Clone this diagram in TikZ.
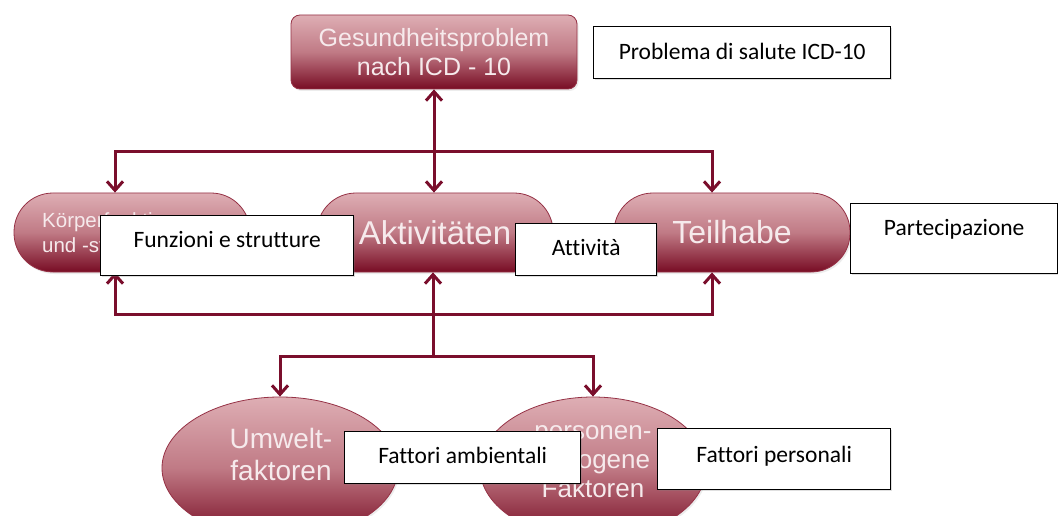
\documentclass[tikz,border=0pt]{standalone}
\usepackage{fontspec}
\newfontfamily\gfont{Liberation Sans}
\newfontfamily\ifont[Ligatures=NoCommon]{Carlito}
\usetikzlibrary{arrows.meta,shapes.geometric,shadows,calc}
\definecolor{conncol}{RGB}{122,14,44}
\definecolor{shtop}{RGB}{222,174,180}
\definecolor{shmid}{RGB}{192,122,133}
\definecolor{shbot}{RGB}{120,12,36}
\definecolor{shedge}{RGB}{150,50,70}
\definecolor{gtxt}{RGB}{246,234,236}
\begin{document}
\begin{tikzpicture}[x=1pt,y=-1pt,
  redshape/.style={draw=shedge, line width=0.8pt, top color=shtop, bottom color=shbot, middle color=shmid,
     drop shadow={opacity=0.15,shadow xshift=1.5pt,shadow yshift=-2pt}, inner sep=0pt},
  pill/.style={redshape, rectangle, rounded corners=39pt, minimum width=236pt, minimum height=79pt},
  gtext/.style={text=gtxt, inner sep=0pt},
  gbig/.style={gtext, font=\gfont\fontsize{33}{38}\selectfont},
  gmid/.style={gtext, font=\gfont\fontsize{25}{28.5}\selectfont, align=center},
  itbox/.style={draw=black, line width=1.4pt, fill=white, inner sep=0pt, anchor=north west,
     drop shadow={opacity=0.25,shadow xshift=1.2pt,shadow yshift=-1.2pt}},
  ittext/.style={font=\ifont\fontsize{23.5}{28}\selectfont, text=black, inner sep=0pt, anchor=base},
  conn/.style={draw=conncol, line width=3pt, >={Straight Barb[length=9pt,width=16pt]}}
]
\clip (0,0) rectangle (1058,516);
\fill[white] (0,0) rectangle (1058,516);

% maroon shapes
\node[redshape, rectangle, rounded corners=9pt, minimum width=286pt, minimum height=74pt,
      gmid] (gp) at (434,52) {Gesundheitsproblem\\nach ICD - 10};
\node[pill] (koerper) at (132,232.5) {};
\node[pill, gbig] (akt) at (435,232.5) {Aktivitäten};
\node[pill, gtext, font=\gfont\fontsize{32}{36}\selectfont] (teil) at (732,232.5) {Teilhabe};
\node[gtext, font=\gfont\fontsize{20.5}{25}\selectfont, align=left, anchor=base west] (kt) at (42,252) {Körperfunktionen\\und -strukturen};

\node[redshape, ellipse, minimum width=236pt, minimum height=142pt] (umw) at (280,468) {};
\node[gtext, font=\gfont\fontsize{28}{32}\selectfont, align=center, anchor=base] (umwt) at (281,480) {Umwelt-\\faktoren};
\node[redshape, ellipse, minimum width=226pt, minimum height=142pt] (pers) at (593,468) {};
\node[gtext, font=\gfont\fontsize{26}{29}\selectfont, align=center, anchor=base] (perst) at (593,497) {personen-\\bezogene\\Faktoren};

% connectors
\coordinate (tl) at (115,152);
\coordinate (tr) at (712,152);
\coordinate (bl) at (115,314);
\coordinate (br) at (712,314);
\coordinate (bm) at (433,356);
\draw[conn,<->] (gp.south) -- (gp.south |- akt.north);
\draw[conn,<->] (koerper.north -| tl) -- (tl) -- (tr) -- (teil.north -| tr);
\draw[conn,<->] (koerper.south -| bl) -- (bl) -- (br) -- (teil.south -| br);
\draw[conn,->] (bm) -- (bm |- akt.south);
\draw[conn,<->] (umw.north) -- (umw.north |- bm) -- (pers.north |- bm) -- (pers.north);

% italian boxes
\node[itbox, minimum width=297pt, minimum height=52pt] (p1) at (593,26) {};
\node[ittext] (p1t) at ($(p1.north)+(0,34)$) {Problema di salute ICD-10};
\node[itbox, minimum width=253pt, minimum height=60pt] (p2) at (100,215) {};
\node[ittext] (p2t) at ($(p2.north)+(0,32)$) {Funzioni e strutture};
\node[itbox, minimum width=141pt, minimum height=52pt] (p3) at (515,223) {};
\node[ittext] (p3t) at ($(p3.north)+(0,32)$) {Attività};
\node[itbox, minimum width=207pt, minimum height=70pt] (p4) at (850,203) {};
\node[ittext] (p4t) at ($(p4.north)+(0,32)$) {Partecipazione};
\node[itbox, minimum width=236pt, minimum height=52pt] (p5) at (344,431) {};
\node[ittext] (p5t) at ($(p5.north)+(0,32)$) {Fattori ambientali};
\node[itbox, minimum width=233pt, minimum height=61pt] (p6) at (657,428) {};
\node[ittext] (p6t) at ($(p6.north)+(0,34)$) {Fattori personali};
\end{tikzpicture}
\end{document}
